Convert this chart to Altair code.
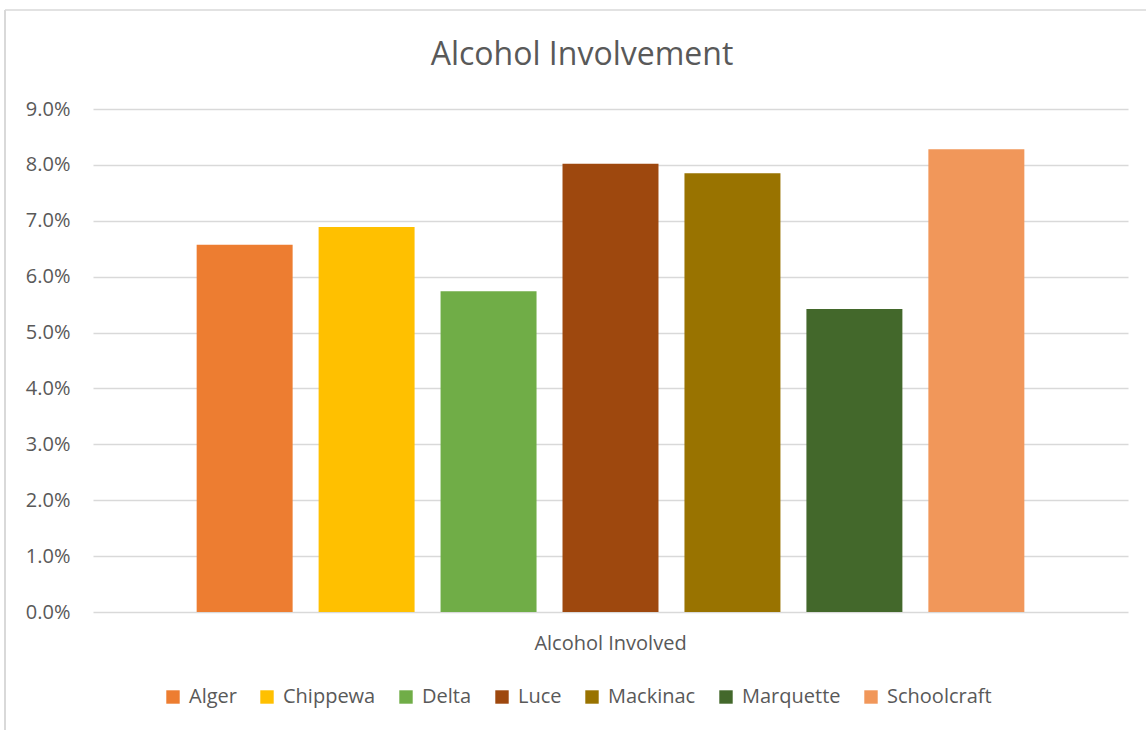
import altair as alt
import pandas as pd

counties = ["Alger", "Chippewa", "Delta", "Luce", "Mackinac", "Marquette", "Schoolcraft"]
values = [0.0657, 0.0689, 0.0574, 0.0802, 0.0785, 0.0542, 0.0828]
colors = ["#ED7D31", "#FFC000", "#70AD47", "#9E480E", "#997300", "#43682B", "#F1975A"]
category = "Alcohol Involved"
title_text = "Alcohol Involvement"
y_ticks = [0.0, 0.01, 0.02, 0.03, 0.04, 0.05, 0.06, 0.07, 0.08, 0.09]

df = pd.DataFrame({"Category": [category] * len(counties), "County": counties, "Value": values})

FONT = "Open Sans"
TXT = "#595959"
GRID = "#D9D9D9"

bars = alt.Chart(df).mark_bar().encode(
    x=alt.X(
        "Category:N",
        title=None,
        scale=alt.Scale(paddingInner=0, paddingOuter=0),
        axis=alt.Axis(domain=False, ticks=False, labelAngle=0, labelPadding=21,
                      labelFontSize=20, labelColor=TXT, labelFont=FONT),
    ),
    xOffset=alt.XOffset("County:N", sort=counties,
                        scale=alt.Scale(paddingInner=0.213, paddingOuter=0.85)),
    y=alt.Y(
        "Value:Q",
        title=None,
        scale=alt.Scale(domain=[0, 0.09], nice=False),
        axis=alt.Axis(format=".1%", values=y_ticks, domain=False, ticks=False,
                      grid=True, gridColor=GRID, gridWidth=1.3, labelPadding=23,
                      labelFontSize=20, labelColor=TXT, labelFont=FONT),
    ),
    color=alt.Color(
        "County:N",
        sort=counties,
        scale=alt.Scale(domain=counties, range=colors),
        legend=alt.Legend(
            title=None, orient="none", legendX=70, legendY=578, direction="horizontal",
            symbolType="square", symbolSize=180, symbolStrokeWidth=0,
            labelFontSize=20, labelColor=TXT, labelFont=FONT,
            columnPadding=20, labelOffset=6,
        ),
    ),
)

frame_df = pd.DataFrame({"k": [0]})
left_edge = alt.Chart(frame_df).mark_rule(color=GRID, strokeWidth=2).encode(
    x=alt.value(-88), y=alt.value(-99), y2=alt.value(621)
)
top_edge = alt.Chart(frame_df).mark_rule(color=GRID, strokeWidth=1.3).encode(
    x=alt.value(-88), x2=alt.value(1053), y=alt.value(-99)
)
title_mark = alt.Chart(pd.DataFrame({"t": [title_text]})).mark_text(
    font=FONT, fontSize=32, color=TXT, align="center", baseline="alphabetic"
).encode(x=alt.value(489), y=alt.value(-44), text="t:N")

chart = alt.layer(left_edge, top_edge, title_mark, bars).properties(
    width=1035,
    height=503,
    background="white",
    autosize=alt.AutoSizeParams(type="none"),
    padding={"left": 93, "top": 109, "right": 18, "bottom": 118},
).configure_view(strokeWidth=0, stroke="transparent")

chart.save("out.html", embed_options={"renderer": "svg", "actions": False})
